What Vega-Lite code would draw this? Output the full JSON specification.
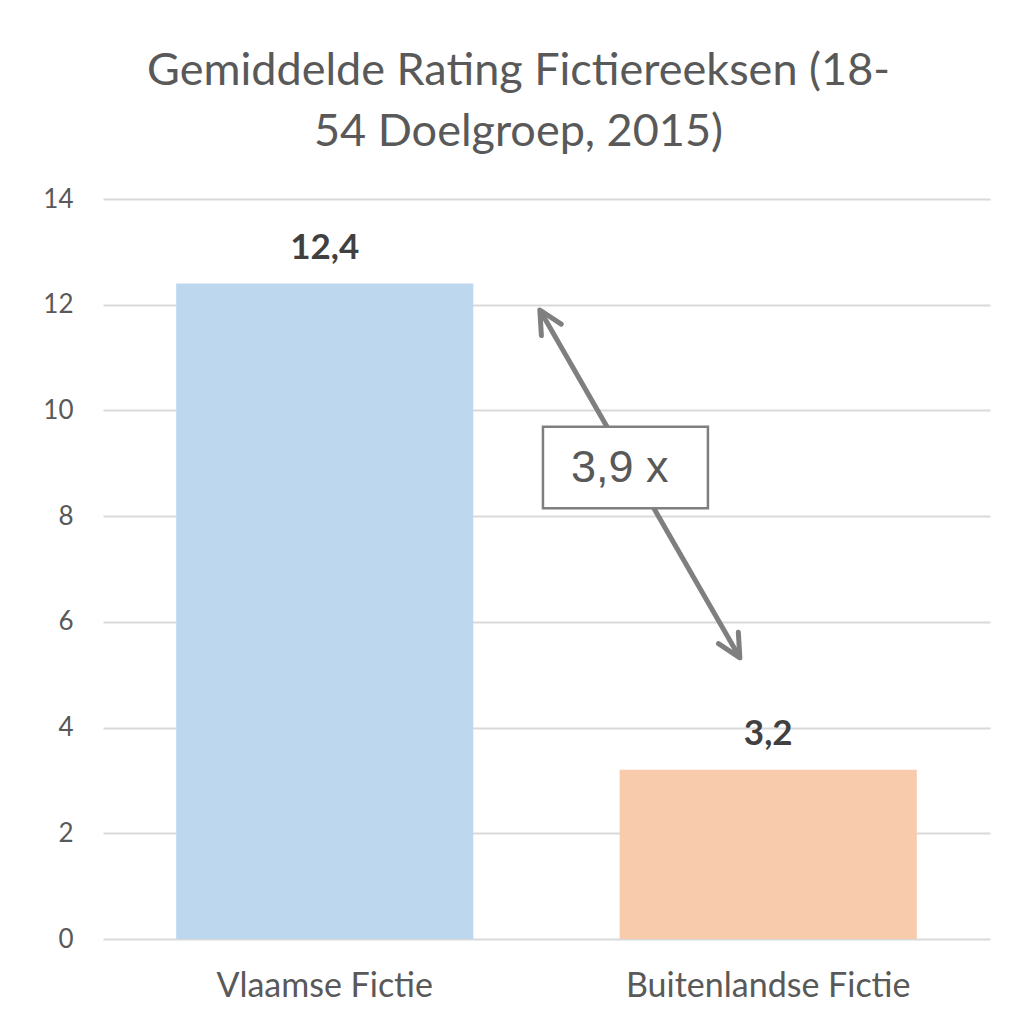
{
  "$schema": "https://vega.github.io/schema/vega-lite/v6.json",
  "autosize": {"type": "none"},
  "width": 887,
  "height": 740,
  "padding": {"left": 103, "top": 199, "right": 28, "bottom": 84},
  "background": "white",
  "title": {
    "text": ["Gemiddelde  Rating Fictiereeksen (18-", "54 Doelgroep,  2015)"],
    "font": "Lato",
    "fontSize": 45,
    "fontWeight": "normal",
    "color": "#595959",
    "lineHeight": 61,
    "anchor": "middle",
    "dx": -28,
    "offset": 31
  },
  "datasets": {
    "bars": [
      {"categorie": "Vlaamse Fictie", "rating": 12.4, "label": "12,4"},
      {"categorie": "Buitenlandse Fictie", "rating": 3.2, "label": "3,2"}
    ],
    "shaft": [{"x": 0.985, "y": 11.9, "x2": 1.436, "y2": 5.32}],
    "tipStart": [{"x": 0.985, "y": 11.9}],
    "tipEnd": [{"x": 1.436, "y": 5.32}],
    "box": [{"x": 0.992, "x2": 1.364, "y": 8.15, "y2": 9.69, "x_text": 1.165, "y_text": 8.92, "tekst": "3,9 x"}]
  },
  "layer": [
    {
      "data": {"name": "bars"},
      "encoding": {
        "x": {
          "field": "categorie",
          "type": "nominal",
          "sort": null,
          "scale": {"paddingInner": 0.33, "paddingOuter": 0.165},
          "axis": {
            "title": null,
            "labelAngle": 0,
            "labelFont": "Lato",
            "labelFontSize": 34,
            "labelColor": "#595959",
            "labelPadding": 30,
            "labelLimit": 0,
            "domain": false,
            "ticks": false,
            "grid": false
          }
        },
        "y": {
          "field": "rating",
          "type": "quantitative",
          "scale": {"domain": [0, 14], "nice": false},
          "axis": {
            "title": null,
            "values": [0, 2, 4, 6, 8, 10, 12, 14],
            "labelFont": "Lato",
            "labelFontSize": 26,
            "labelColor": "#595959",
            "labelPadding": 30,
            "domain": false,
            "ticks": false,
            "grid": true,
            "gridColor": "#d9d9d9",
            "gridWidth": 2
          }
        }
      },
      "layer": [
        {
          "mark": {"type": "bar"},
          "encoding": {
            "color": {
              "field": "categorie",
              "type": "nominal",
              "scale": {"domain": ["Vlaamse Fictie", "Buitenlandse Fictie"], "range": ["#BDD7EE", "#F8CBAD"]},
              "legend": null
            }
          }
        },
        {
          "mark": {"type": "text", "dy": -25, "baseline": "alphabetic", "font": "Lato", "fontSize": 35, "fontWeight": "bold", "color": "#404040"},
          "encoding": {"text": {"field": "label"}}
        }
      ]
    },
    {
      "layer": [
        {
          "data": {"name": "shaft"},
          "mark": {"type": "rule", "color": "#7f7f7f", "strokeWidth": 5},
          "encoding": {
            "x": {"field": "x", "type": "quantitative", "scale": {"domain": [0, 2], "nice": false, "zero": false}, "axis": null},
            "x2": {"field": "x2"},
            "y": {"field": "y", "type": "quantitative", "axis": null},
            "y2": {"field": "y2"}
          }
        },
        {
          "data": {"name": "tipStart"},
          "mark": {"type": "point", "shape": "M-0.5,1L0,0L0.5,1", "size": 2100, "filled": false, "stroke": "#7f7f7f", "strokeWidth": 5, "strokeCap": "round", "strokeJoin": "round", "angle": -30, "opacity": 1},
          "encoding": {
            "x": {"field": "x", "type": "quantitative", "axis": null},
            "y": {"field": "y", "type": "quantitative", "axis": null}
          }
        },
        {
          "data": {"name": "tipEnd"},
          "mark": {"type": "point", "shape": "M-0.5,1L0,0L0.5,1", "size": 2100, "filled": false, "stroke": "#7f7f7f", "strokeWidth": 5, "strokeCap": "round", "strokeJoin": "round", "angle": 150, "opacity": 1},
          "encoding": {
            "x": {"field": "x", "type": "quantitative", "axis": null},
            "y": {"field": "y", "type": "quantitative", "axis": null}
          }
        },
        {
          "data": {"name": "box"},
          "mark": {"type": "rect", "fill": "white", "stroke": "#7f7f7f", "strokeWidth": 2.5},
          "encoding": {
            "x": {"field": "x", "type": "quantitative", "axis": null},
            "x2": {"field": "x2"},
            "y": {"field": "y", "type": "quantitative", "axis": null},
            "y2": {"field": "y2"}
          }
        },
        {
          "data": {"name": "box"},
          "mark": {"type": "text", "font": "Liberation Sans", "fontSize": 45, "color": "#595959", "align": "center", "baseline": "middle"},
          "encoding": {
            "x": {"field": "x_text", "type": "quantitative", "axis": null},
            "y": {"field": "y_text", "type": "quantitative", "axis": null},
            "text": {"field": "tekst"}
          }
        }
      ]
    }
  ],
  "resolve": {"scale": {"x": "independent", "color": "independent"}, "axis": {"y": "independent"}},
  "config": {"view": {"stroke": null}}
}
